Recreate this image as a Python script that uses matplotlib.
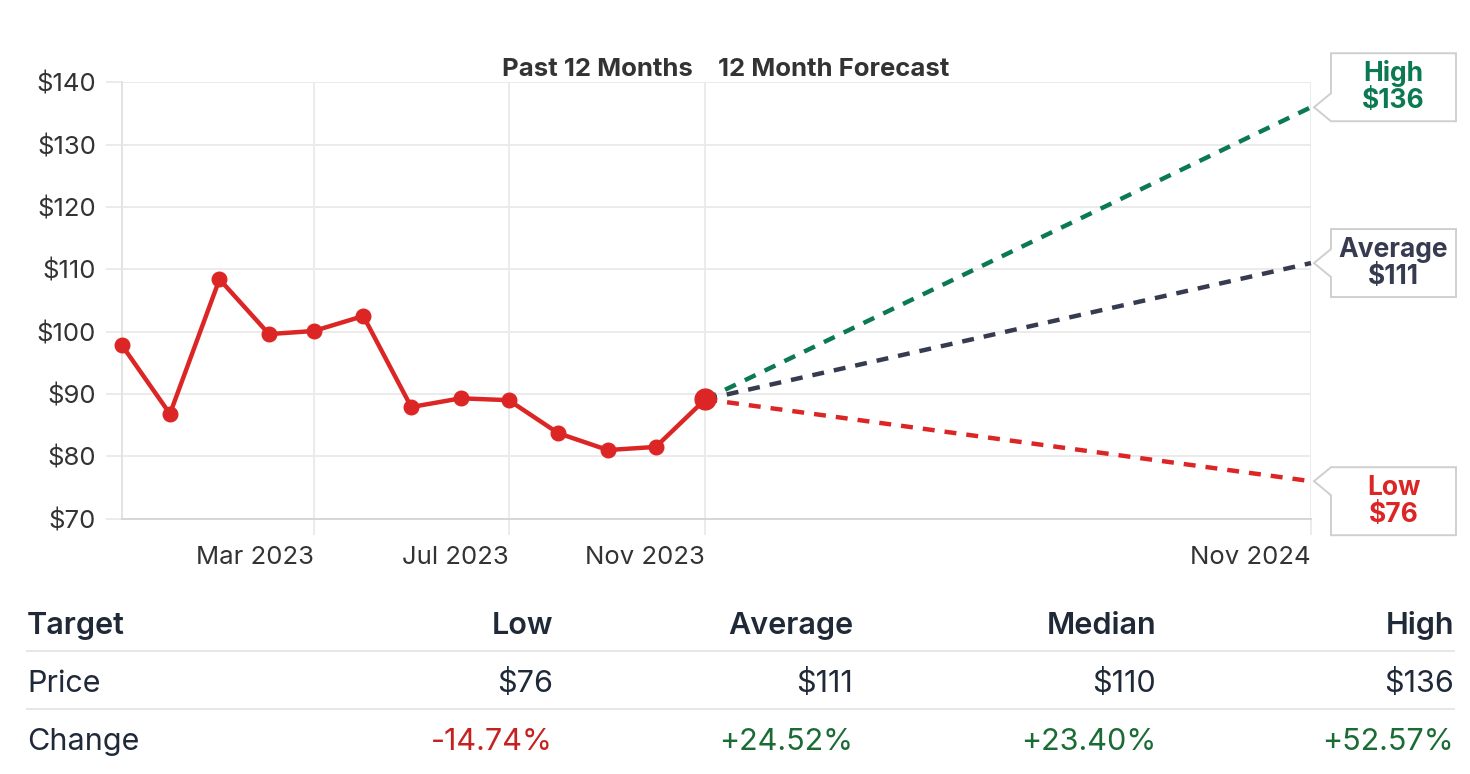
import matplotlib
matplotlib.use('Agg')
import matplotlib.pyplot as plt
import matplotlib.dates as mdates
from matplotlib.patches import Polygon
from matplotlib.lines import Line2D
import pandas as pd

plt.rcParams['font.family'] = ['Inter', 'DejaVu Sans']
plt.rcParams['lines.scale_dashes'] = False

# past 12 months of monthly closes
past_dates = pd.date_range('2022-11-01', '2023-11-01', freq='MS')
past_prices = [97.8, 86.8, 108.4, 99.6, 100.1, 102.5, 87.9, 89.3, 89.0, 83.7, 81.0, 81.5, 89.14]
forecast_end = pd.Timestamp('2024-11-14')

# 12 month analyst targets
target_names = ['High', 'Average', 'Low']
target_values = [136, 111, 76]
target_colors = ['#0b7a52', '#373b50', '#dc2626']
box_shift = [20, 0, -20]   # px, label box offset from the line end

# table under the chart
table_header = ['Target', 'Low', 'Average', 'Median', 'High']
price_row = ['Price', '$76', '$111', '$110', '$136']
change_row = ['Change', '-14.74%', '+24.52%', '+23.40%', '+52.57%']

W, H = 1470, 774
fig = plt.figure(figsize=(W / 100, H / 100), dpi=100)
ax = fig.add_axes([122 / W, 1 - 518.6 / H, (1311 - 122) / W, (518.6 - 82.3) / H])

red = '#dc2626'
grid_c = '#ebebeb'

now = past_dates[-1]
now_price = past_prices[-1]

for name, val, col in zip(target_names, target_values, target_colors):
    ax.plot([now, forecast_end], [now_price, val], color=col, lw=3.2,
            dashes=(8.6, 7.2), dash_capstyle='butt', zorder=3, clip_on=False)

ax.plot(past_dates, past_prices, color=red, lw=3.2, marker='o', ms=10.5,
        zorder=4, clip_on=False)
ax.plot([now], [now_price], marker='o', ms=15, color=red, zorder=5, clip_on=False)

ax.set_xlim(past_dates[0], forecast_end)
ax.set_ylim(70, 140)
ax.set_yticks(range(70, 141, 10))
ax.yaxis.set_major_formatter(plt.FuncFormatter(lambda v, p: f'${v:.0f}'))
tick_dates = [pd.Timestamp('2023-03-01'), pd.Timestamp('2023-07-01'), now, forecast_end]
ax.set_xticks(tick_dates)
ax.xaxis.set_major_formatter(mdates.DateFormatter('%b %Y'))

ax.grid(True, color=grid_c, lw=1.4, zorder=0)
ax.set_axisbelow(True)
for s in ['top', 'right']:
    ax.spines[s].set_visible(False)
ax.spines['left'].set_color('#e3e3e3')
ax.spines['left'].set_linewidth(1.4)
ax.spines['bottom'].set_color('#d6d6d6')
ax.spines['bottom'].set_linewidth(1.4)
ax.tick_params(axis='both', length=11.5, width=1.4, color=grid_c,
               labelsize=18.5, labelcolor='#333333')
ax.tick_params(axis='y', pad=7)
ax.tick_params(axis='x', pad=8)
for lbl in ax.get_xticklabels():
    lbl.set_ha('right')

# header above the split point
ax.annotate('Past 12 Months', xy=(now, 1), xycoords=('data', 'axes fraction'),
            xytext=(-9, 4.3), textcoords='offset points', ha='right', va='baseline',
            fontsize=18.5, fontweight='bold', color='#333333')
ax.annotate('12 Month Forecast', xy=(now, 1), xycoords=('data', 'axes fraction'),
            xytext=(9, 4.3), textcoords='offset points', ha='left', va='baseline',
            fontsize=18.5, fontweight='bold', color='#333333')

# callout boxes at the end of the forecast lines
to_fig = fig.transFigure.inverted()
for name, val, col, sh in zip(target_names, target_values, target_colors, box_shift):
    ex, ey = ax.transData.transform((mdates.date2num(forecast_end), val))
    tx = ex + 3
    L = tx + 17
    R = L + 125
    cy = ey + sh
    T, B = cy + 34, cy - 34
    pts = [(L, T), (R, T), (R, B), (L, B), (L, max(B, ey - 14)), (tx, ey),
           (L, min(T, ey + 14))]
    pts = to_fig.transform(pts)
    fig.add_artist(Polygon(pts, closed=True, transform=fig.transFigure,
                           facecolor='white', edgecolor='#cfcfcf', lw=1.4, zorder=6))
    mx = (L + R) / 2
    for txt, dy in [(name, 13.5), (f'${val}', -13.5)]:
        fx, fy = to_fig.transform((mx, cy + dy))
        fig.text(fx, fy, txt, ha='center', va='center', fontsize=19,
                 fontweight='bold', color=col, zorder=7)

# table
col_right = [553, 853, 1156, 1454]
row_base = [634, 692, 750]
rows = [table_header, price_row, change_row]
dark = '#1f2937'
for r, (row, yb) in enumerate(zip(rows, row_base)):
    weight = 'semibold' if r == 0 else 'normal'
    fig.text(27 / W, 1 - yb / H, row[0], ha='left', va='baseline',
             fontsize=22, fontweight=weight, color=dark)
    for cell, xr in zip(row[1:], col_right):
        c = dark
        if r == 2:
            c = '#c62121' if cell.startswith('-') else '#1b6b35'
        fig.text(xr / W, 1 - yb / H, cell, ha='right', va='baseline',
                 fontsize=22, fontweight=weight, color=c)

for yl in [651, 709]:
    fig.add_artist(Line2D([27 / W, 1454 / W], [1 - yl / H, 1 - yl / H],
                          transform=fig.transFigure, color='#e5e7eb', lw=1.4))

fig.savefig('out.png', dpi=100, facecolor='white')
